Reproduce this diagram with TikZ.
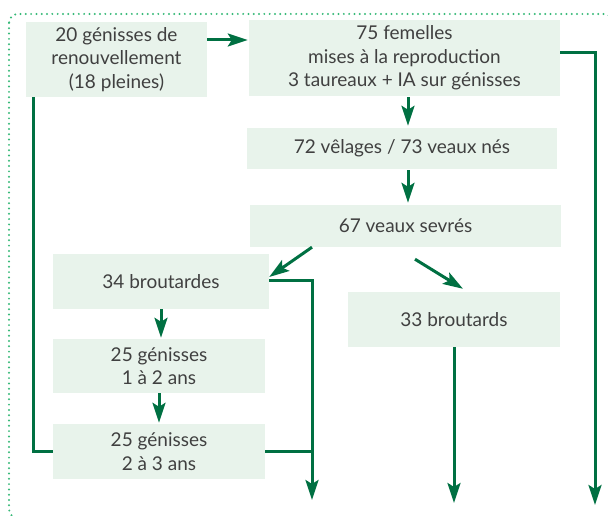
\documentclass[tikz,border=0pt]{standalone}
\usepackage{fontspec}
\setmainfont{Lato}
\usetikzlibrary{arrows.meta}
\definecolor{boxfill}{RGB}{232,243,235}
\definecolor{arrgreen}{RGB}{0,112,66}
\definecolor{dotgreen}{RGB}{55,185,120}
\definecolor{txt}{RGB}{64,64,64}
\tikzset{
  box/.style={fill=boxfill, draw=none, inner sep=0pt, align=center, text=txt,
    font=\fontsize{19}{23.5}\selectfont},
  link/.style={draw=arrgreen, line width=3pt},
  arr/.style={link, -{Stealth[length=20pt,width=13pt,inset=4pt]}},
}
\begin{document}
\begin{tikzpicture}[x=1pt,y=-1pt]
\useasboundingbox (0,0) rectangle (608,516);
\clip (0,0) rectangle (608,516);
% dotted frame
\draw[dotgreen, line width=2.2pt, line cap=round, dash pattern=on 0pt off 5.3pt, rounded corners=9pt]
  (9,14) rectangle (613,518);
% boxes
\node[box, minimum width=181pt, minimum height=75pt] (A) at (116.5,59.5)
  {20 génisses de\\renouvellement\\(18 pleines)};
\node[box, minimum width=311pt, minimum height=76pt] (B) at (404.5,58)
  {75 femelles\\mises à la reproduction\\3 taureaux + IA sur génisses};
\node[box, minimum width=310pt, minimum height=41pt] (C) at (402,148.5)
  {72 vêlages / 73 veaux nés};
\node[box, minimum width=311pt, minimum height=42pt] (D) at (405.5,226)
  {67 veaux sevrés};
\node[box, minimum width=216pt, minimum height=55pt] (E) at (161,281.5)
  {34 broutardes};
\node[box, minimum width=212pt, minimum height=55pt] (F) at (454,319.5)
  {33 broutards};
\node[box, minimum width=212pt, minimum height=54pt] (G) at (159,366)
  {25 génisses\\1 à 2 ans};
\node[box, minimum width=212pt, minimum height=55pt] (H) at (159,451.5)
  {25 génisses\\2 à 3 ans};
% free ends
\coordinate (endB) at (595,505);
\coordinate (endE) at (312,500);
\coordinate (endF) at (454,503);
% A -> B
\coordinate (a1) at ([yshift=19.5pt]A.east);
\draw[arr] (a1) -- ([xshift=-1pt]a1 -| B.west);
% B right, down
\coordinate (b1) at ([yshift=5pt]B.east);
\draw[arr] (b1) -| (endB);
% B -> C
\coordinate (b2) at ([xshift=3.5pt]B.south);
\draw[arr, shorten <=1pt, shorten >=2pt] (b2) -- (b2 |- C.north);
% C -> D
\coordinate (c2) at ([xshift=6pt]C.south);
\draw[arr, shorten <=1pt, shorten >=2pt] (c2) -- (c2 |- D.north);
% D -> E
\coordinate (d1) at ([xshift=-93.5pt]D.south);
\draw[arr] (d1) -- ([yshift=4.5pt]E.east);
% D -> F
\coordinate (d2) at ([xshift=9.5pt,yshift=-12pt]D.south);
\draw[arr] (d2) -- ([xshift=9pt,yshift=3pt]F.north);
% E right, down
\coordinate (e1) at ([yshift=1.5pt]E.east);
\draw[arr] (e1) -| (endE);
% H right joins
\draw[link] (H.east) -- (H.east -| endE);
% A left to H
\draw[link] ([xshift=8pt]A.south west) |- (H.west);
% E -> G, G -> H
\draw[arr, shorten >=1pt] (E.south) -- (E.south |- G.north);
\draw[arr, shorten >=1pt] (G.south) -- (H.north);
% F down
\draw[arr] (F.south) -- (endF);
\end{tikzpicture}
\end{document}
